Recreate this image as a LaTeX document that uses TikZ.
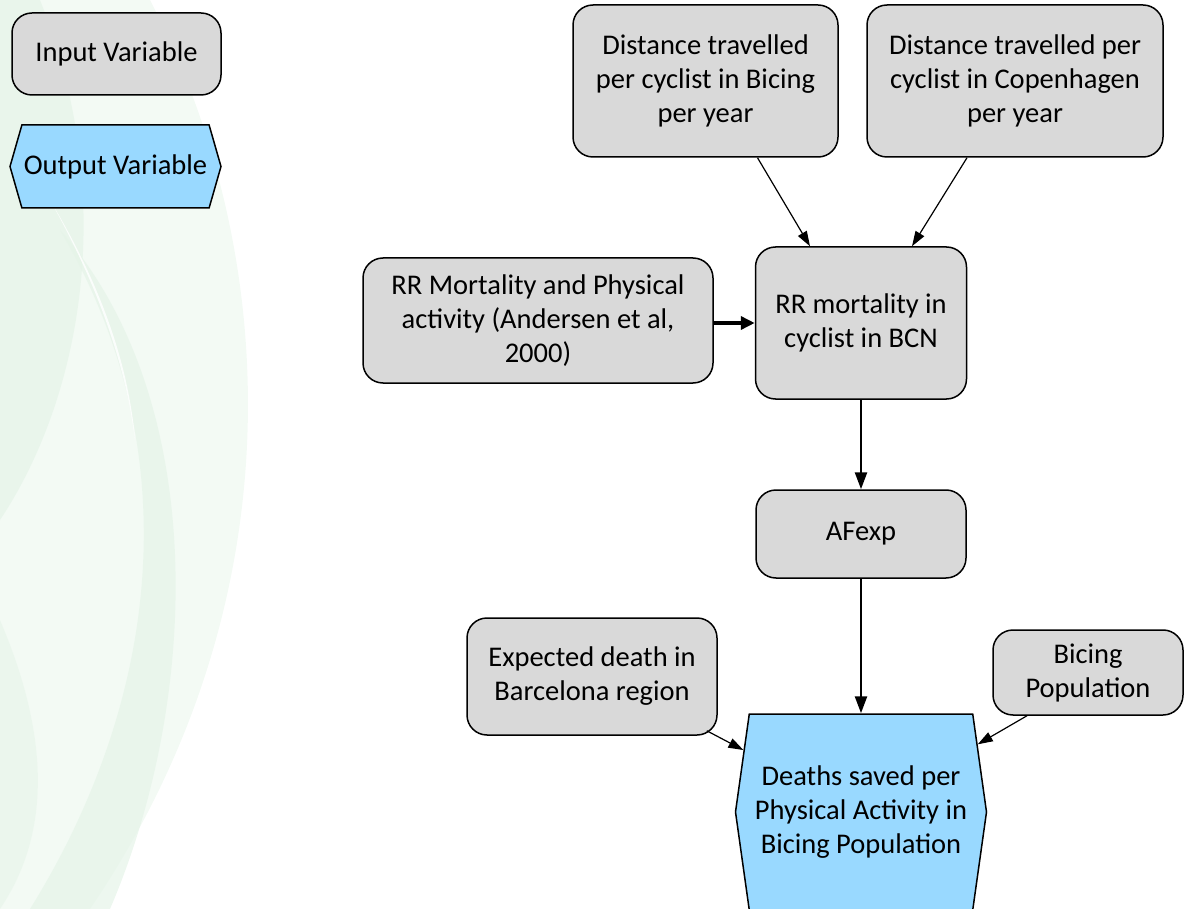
\documentclass[tikz,border=0pt]{standalone}
\usepackage{fontspec}
\setmainfont{Carlito}
\usetikzlibrary{arrows.meta,shapes.symbols}
\definecolor{boxgray}{RGB}{217,217,217}
\definecolor{outblue}{RGB}{153,217,255}
\definecolor{swirlA}{RGB}{243,250,244}
\definecolor{swirlB}{RGB}{229,244,232}
\begin{document}
\begin{tikzpicture}[x=1pt,y=-1pt,
  lbl/.style={align=center, font=\fontsize{28.5}{34}\selectfont, inner sep=0pt},
  inbox/.style={lbl, draw=black, line width=1.5pt, fill=boxgray, rounded corners=20pt},
  outbox/.style={lbl, draw=black, line width=1.5pt, fill=outblue, shape=signal, signal to=east and west},
  arrthin/.style={line width=1.2pt, -{Triangle[length=15pt,width=10pt]}},
  arrmid/.style={line width=2.5pt, -{Triangle[length=17pt,width=12pt]}},
  arrbig/.style={line width=4.5pt, -{Triangle[length=14pt,width=13pt]}}
]
\path[use as bounding box] (0,0) rectangle (1189,909);
% background swirl
\fill[swirlA] (0,0) -- (150,0) .. controls (280,250) and (300,600) .. (90,909) -- (0,909) -- cycle;
\fill[swirlB, opacity=0.7] (0,0) -- (40,0) .. controls (120,200) and (80,400) .. (0,520) -- cycle;
\fill[swirlB, opacity=0.7] (30,909) .. controls (160,700) and (190,450) .. (60,230)
   .. controls (210,400) and (200,700) .. (110,909) -- cycle;
\fill[white, opacity=0.8] (50,200) .. controls (110,300) and (130,380) .. (135,440)
   .. controls (125,360) and (95,280) .. (50,200) -- cycle;
\fill[swirlB, opacity=0.5] (0,620) .. controls (60,760) and (40,850) .. (0,909) -- cycle;

% legend
\node[inbox, minimum width=209pt, minimum height=82pt] (inleg) at (116.5,54) {Input Variable};
\node[outbox, minimum width=211pt, minimum height=83pt, signal pointer angle=148] (outleg) at (115.5,166.5) {Output Variable};

% nodes
\node[inbox, minimum width=265pt, minimum height=152pt] (dbic) at (705.5,81) {Distance travelled\\per cyclist in Bicing\\per year};
\node[inbox, minimum width=296pt, minimum height=152pt] (dcop) at (1015,81) {Distance travelled per\\cyclist in Copenhagen\\per year};
\node[inbox, minimum width=211pt, minimum height=152pt] (rrbcn) at (861,323) {RR mortality in\\cyclist in BCN};
\node[inbox, minimum width=350pt, minimum height=125pt] (rrpa) at (538,320.5) {RR Mortality and Physical\\activity (Andersen et al,\\2000)};
\node[inbox, minimum width=210pt, minimum height=88pt] (afexp) at (861,534) {AFexp};
\node[inbox, minimum width=250pt, minimum height=117pt] (expd) at (592,676.5) {Expected death in\\Barcelona region};
\node[inbox, minimum width=190pt, minimum height=85pt] (bpop) at (1088,672.5) {Bicing\\Population};
\node[outbox, minimum width=251pt, minimum height=196pt, signal pointer angle=164] (deaths) at (861,812) {Deaths saved per\\Physical Activity in\\Bicing Population};

% connectors
\draw[arrthin] ([xshift=52pt]dbic.south) -- ([xshift=-51pt]rrbcn.north);
\draw[arrthin] ([xshift=-48pt]dcop.south) -- ([xshift=51pt]rrbcn.north);
\draw[arrbig] (rrpa.east |- rrbcn.west) -- (rrbcn.west);
\draw[arrmid] (rrbcn.south) -- (afexp.north);
\draw[arrmid] (afexp.south) -- (deaths.north);
\draw[arrthin] ([shift={(-11,-5)}]expd.south east) -- (deaths);
\draw[arrthin] ([xshift=-61pt]bpop.south) -- (deaths);
\end{tikzpicture}
\end{document}
